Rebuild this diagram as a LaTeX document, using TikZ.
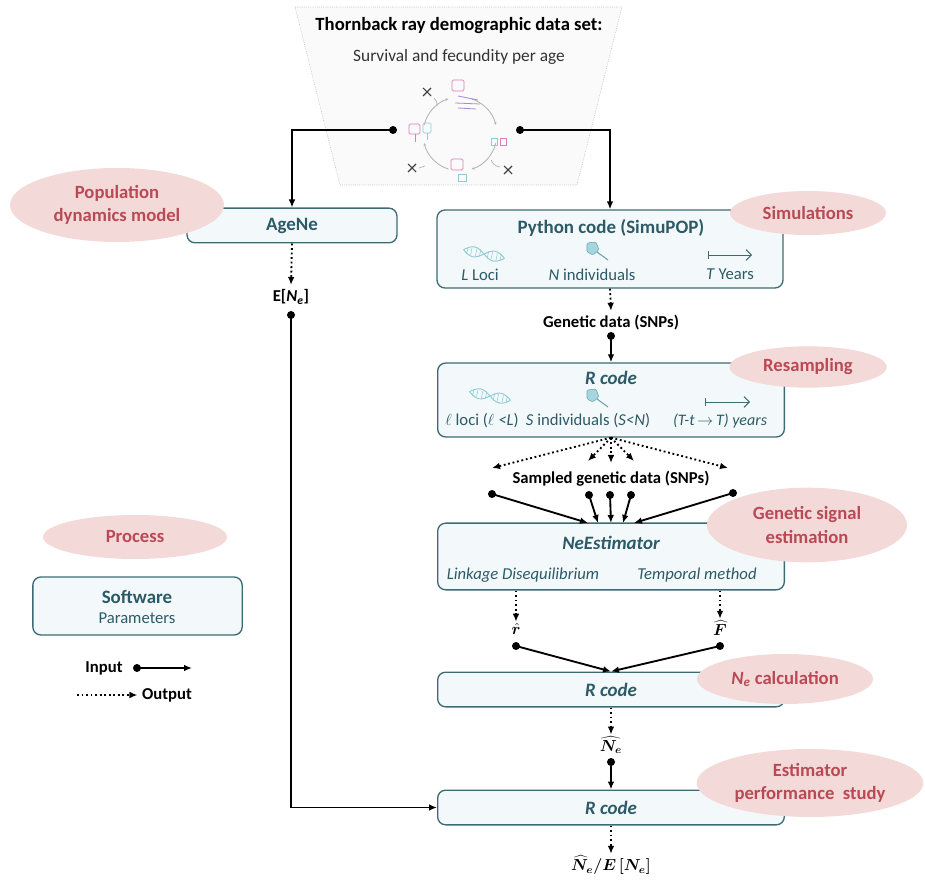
\documentclass[tikz,border=0pt]{standalone}
\usepackage{fontspec}
\usepackage{bm}
\setmainfont{Carlito}
\usetikzlibrary{shapes.geometric,arrows.meta}

\definecolor{boxline}{HTML}{3E6B73}
\definecolor{boxfill}{HTML}{F3F9FB}
\definecolor{boxtext}{HTML}{2C5A66}
\definecolor{tagfill}{HTML}{F4D9D9}
\definecolor{tagtext}{HTML}{B94A55}
\definecolor{iconblue}{HTML}{8FCBD6}
\definecolor{iconpink}{HTML}{E07CC0}
\definecolor{iconpurple}{HTML}{A98AD8}

\tikzset{
  box/.style={draw=boxline, fill=boxfill, rounded corners=6pt, line width=1pt},
  tag/.style={ellipse, fill=tagfill, text=tagtext, inner sep=0pt, align=center,
    font=\fontsize{14}{17.5}\selectfont\bfseries},
  boxtitle/.style={text=boxtext, font=\fontsize{14.2}{17}\selectfont\bfseries},
  boxital/.style={text=boxtext, font=\fontsize{14.2}{17}\selectfont\bfseries\itshape},
  boxitem/.style={text=boxtext, font=\fontsize{12.5}{14}\selectfont},
  datalab/.style={font=\fontsize{12.5}{14}\selectfont\bfseries},
  mathlab/.style={inner sep=1pt, font=\large},
  dot/.style={circle, fill=black, inner sep=0pt, minimum size=6pt},
  input/.style={-{Latex[length=6pt,width=5pt]}, line width=1.4pt},
  output/.style={-{Latex[length=6pt,width=5pt]}, line width=1.4pt, dotted},
  dna/.pic={
    \draw[iconblue, line width=0.7pt, rotate=-12] (-21,0) sin (-10.5,-5) cos (0,0) sin (10.5,5) cos (21,0);
    \draw[iconblue, line width=0.7pt, rotate=-12] (-21,0) sin (-10.5,5) cos (0,0) sin (10.5,-5) cos (21,0);
    \foreach \u in {-17,-13,-8,-4,4,8,13,17}
      \draw[iconblue, line width=0.4pt, rotate=-12] (\u,-3.5) -- (\u,3.5);
  },
  sampler/.pic={
    \filldraw[draw=iconblue!80!black, fill=iconblue!80, line width=0.4pt, rounded corners=1pt]
      (-7,-6) -- (2,-7) -- (5,1) -- (-1,6) -- (-7,3) -- cycle;
    \draw[iconblue!80!black, line width=0.8pt] (3,3) -- (14,11);
  },
}

\begin{document}
\begin{tikzpicture}[x=0.75pt,y=-0.75pt]
\useasboundingbox (0,0) rectangle (925,880);

% demographic data set
\draw[gray!70, densely dotted, fill=gray!4] (295,7) -- (622,7) -- (577,185) -- (340,185) -- cycle;
\node[font=\fontsize{14}{17}\selectfont\bfseries] (dset) at (459,26) {Thornback ray demographic data set:};
\node[font=\fontsize{13}{15}\selectfont, text=black!80] (surv) at (459,57) {Survival and fecundity per age};

% life cycle
\foreach \a/\b in {-72/-14, 14/72, 108/166, 194/252}
  \draw[gray!60, line width=0.6pt, -{Stealth[length=2.5pt]}] (460,134) ++(\a:37) arc[start angle=\a, end angle=\b, radius=37];
\draw[iconpink, line width=0.6pt, rounded corners=1pt] (452,80) rectangle (464,91);
\draw[iconpurple, line width=0.6pt] (458,96) -- (478,100) (455,103) -- (480,104) (458,108) -- (476,109);
\draw[iconpink, line width=0.6pt, rounded corners=1pt] (409,124) rectangle (420,134);
\draw[iconpink, line width=0.6pt] (415,134) -- (415,142);
\draw[iconblue, line width=0.6pt, rounded corners=1pt] (423,123) rectangle (431,133);
\draw[iconblue, line width=0.6pt] (427,133) -- (427,140);
\draw[iconblue, line width=0.6pt] (491,138) rectangle (497,145);
\draw[iconpink, line width=0.6pt] (500,138) rectangle (506,145);
\draw[iconpink, line width=0.6pt, rounded corners=1pt] (451,159) rectangle (463,170);
\draw[iconblue, line width=0.6pt] (458,174) rectangle (466,181);
\foreach \x/\y in {427/92, 412/168, 508/170}
  \draw[black!75, line width=0.8pt] (\x-4,\y-4) -- (\x+4,\y+4) (\x-4,\y+4) -- (\x+4,\y-4);
\draw[gray!60, line width=0.5pt] (434,98) to[bend left=30] (437,106);
\draw[gray!60, line width=0.5pt] (419,168) -- (425,166);
\draw[gray!60, line width=0.5pt] (491,160) to[bend right=30] (500,167);
\node[dot] (cycl) at (393,130) {};
\node[dot] (cycr) at (520,130) {};

% software boxes
\node[box, boxtitle, minimum width=157.5pt, minimum height=26pt] (agene) at (292,225.5) {AgeNe};

\node[box, minimum width=259.5pt, minimum height=58.5pt] (python) at (610,249) {};
\node[boxtitle] (pytitle) at (611,228) {Python code (SimuPOP)};
\pic at (484,254) {dna};
\pic at (594,249) {sampler};
\draw[boxline, line width=0.7pt, {Bar[width=6pt]}-{Straight Barb[length=4pt]}] (708,255) -- (752,255);
\node[boxitem] (loci) at (480,275) {\textit{L} Loci};
\node[boxitem] (indiv) at (592,275) {\textit{N} individuals};
\node[boxitem] (years) at (730,274) {\textit{T} Years};

\node[box, minimum width=260pt, minimum height=55.5pt] (rsample) at (611,400) {};
\node[boxital] (rstitle) at (611,378) {R code};
\pic at (490,396) {dna};
\pic at (594,396) {sampler};
\draw[boxline, line width=0.7pt, {Bar[width=6pt]}-{Straight Barb[length=4pt]}] (705,402) -- (750,402);
\node[boxitem] (sloci) at (482,421) {$\ell$ loci (\textit{$\ell$ <L})};
\node[boxitem] (sindiv) at (588,421) {\textit{S} individuals (\textit{S<N})};
\node[boxitem, font=\fontsize{12}{14}\selectfont\itshape] (syears) at (720,421) {(T-t\,$\rightarrow$\,T) years};

\node[box, minimum width=260pt, minimum height=50pt] (neest) at (611,556.5) {};
\node[boxital] (netitle) at (611,543) {NeEstimator};
\node[boxitem, font=\fontsize{12.5}{14}\selectfont\itshape] (ld) at (523,575) {Linkage Disequilibrium};
\node[boxitem, font=\fontsize{12.5}{14}\selectfont\itshape] (temp) at (697,575) {Temporal method};

\node[box, boxital, minimum width=260pt, minimum height=26pt] (rcalc) at (611,689.5) {R code};
\node[box, boxital, minimum width=260pt, minimum height=26pt] (rperf) at (611,807.5) {R code};

% legend
\node[box, minimum width=157pt, minimum height=43.5pt] (soft) at (137.5,606) {};
\node[boxtitle] (softlab) at (137,597) {Software};
\node[boxitem] (parlab) at (137,618) {Parameters};
\node[tag, minimum width=138pt, minimum height=33pt] (process) at (135,537) {Process};
\node[datalab] (inlab) at (104,668) {Input};
\node[dot] (indot) at (137,668) {};
\coordinate (inend) at (192,668);
\node[datalab] (outlab) at (167,695) {Output};
\coordinate (outstart) at (77,695);
\draw[input] (indot.center) -- (inend);
\draw[output] (outstart) -- (outlab.west);

% process tags
\node[tag, minimum width=160.5pt, minimum height=55.5pt] (popdyn) at (117,205) {Population\\dynamics model};
\node[tag, minimum width=117pt, minimum height=33pt] (simul) at (808,213) {Simulations};
\node[tag, minimum width=118pt, minimum height=31pt] (resamp) at (808,367) {Resampling};
\node[tag, minimum width=150pt, minimum height=56pt] (gsig) at (807,525) {Genetic signal\\estimation};
\node[tag, minimum width=132pt, minimum height=37.5pt] (necalc) at (785,679) {\textit{N\textsubscript{e}} calculation};
\node[tag, minimum width=170pt, minimum height=51pt] (perf) at (810,783) {Estimator\\performance~ study};

% data
\node[datalab] (ene) at (291,297) {E[\textit{N\textsubscript{e}}]};
\node[dot] (enedot) at (291,315) {};
\node[datalab] (gdata) at (611,323) {Genetic data (SNPs)};
\node[dot] (gdot) at (611,336) {};
\node[datalab] (sdata) at (611,479) {Sampled genetic data (SNPs)};
\node[dot] (s1) at (492,494) {};
\node[dot] (s2) at (589,495) {};
\node[dot] (s3) at (610,495) {};
\node[dot] (s4) at (631,495) {};
\node[dot] (s5) at (733,493) {};
\node[mathlab] (rhat) at (516,629) {$\bm{\hat{r}}$};
\node[dot] (rdot) at (516,646) {};
\node[mathlab] (fhat) at (720,628) {$\bm{\widehat{F}}$};
\node[dot] (fdot) at (720,646) {};
\node[mathlab] (nehat) at (611,745) {$\bm{\widehat{N_e}}$};
\node[dot] (nedot) at (611,762) {};
\node[mathlab] (ratio) at (611,865) {$\bm{\widehat{N}_e/E\,[N_e]}$};

% fan out of the resampled data
\coordinate (f1) at (492,468);
\coordinate (f2) at (588,461);
\coordinate (f3) at (611,463);
\coordinate (f4) at (634,461);
\coordinate (f5) at (728,468);
\coordinate (t1) at (588,523);
\coordinate (t2) at (598,523);
\coordinate (t3) at (611,523);
\coordinate (t4) at (623,523);
\coordinate (t5) at (634,523);

% connectors
\draw[input] (cycl.center) -| (agene.north);
\draw[input] (cycr.center) -| (python.north);
\draw[output] (agene.south) -- (ene.north);
\draw[input] (enedot.center) |- (rperf.west);
\draw[output] (python.south) -- (gdata.north);
\draw[input] (gdot.center) -- (rsample.north);
\foreach \i in {1,...,5} {
  \draw[output] (rsample.south) -- (f\i);
  \draw[input] (s\i.center) -- (t\i);
}
\draw[output] (neest.south -| rhat) -- (rhat.north);
\draw[output] (neest.south -| fhat) -- (fhat.north);
\draw[input] (rdot.center) -- (rcalc.north);
\draw[input] (fdot.center) -- (rcalc.north);
\draw[output] (rcalc.south) -- (nehat.north);
\draw[input] (nedot.center) -- (rperf.north);
\draw[output] (rperf.south) -- (ratio.north);
\end{tikzpicture}
\end{document}
